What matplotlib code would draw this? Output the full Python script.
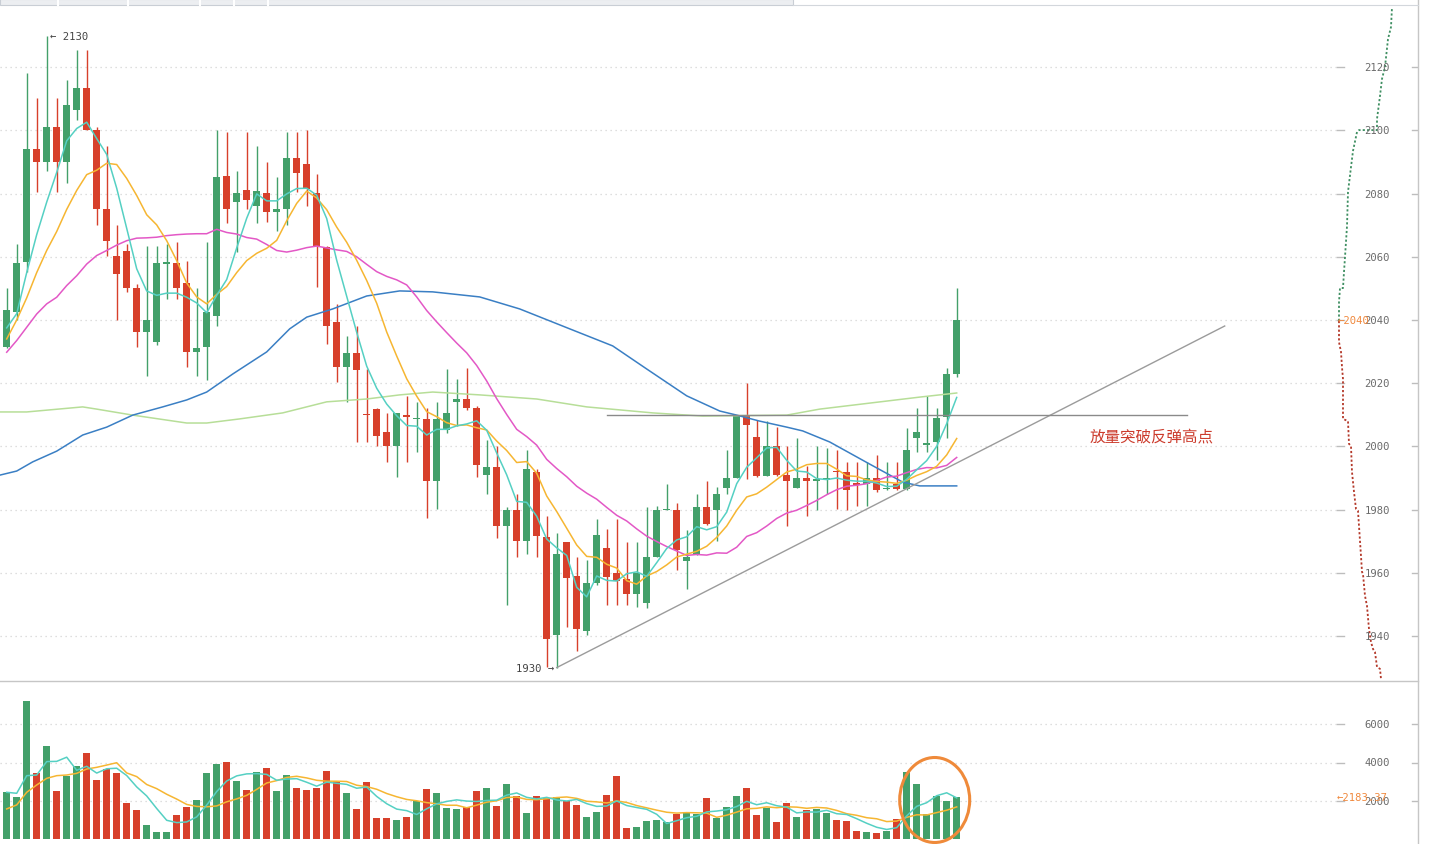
import numpy as np
import matplotlib
matplotlib.use('Agg')
import matplotlib.pyplot as plt
from matplotlib.patches import Ellipse, Rectangle
from matplotlib.lines import Line2D

# ---- candle data ----
opens = [2031.5, 2042.4, 2058.3, 2094.1, 2090.1, 2101.2, 2090.1, 2106.3, 2113.5, 2100.2,
         2075.1, 2060.4, 2061.7, 2050.2, 2036.1, 2033.1, 2057.8, 2058.0, 2051.6, 2030.0,
         2031.3, 2041.2, 2085.7, 2077.3, 2081.2, 2076.2, 2080.2, 2074.3, 2075.1, 2091.3,
         2089.4, 2080.2, 2063.0, 2039.3, 2025.2, 2029.5, 2010.1, 2011.8, 2004.4, 2000.2,
         2009.9, 2008.7, 2008.8, 1989.2, 2005.2, 2014.1, 2014.9, 2012.1, 1991.1, 1993.6,
         1974.9, 1980.0, 1970.2, 1992.0, 1971.3, 1940.2, 1969.9, 1958.9, 1941.5, 1956.7,
         1967.9, 1960.0, 1958.1, 1953.4, 1950.5, 1965.0, 1979.8, 1980.0, 1963.6, 1965.5,
         1980.8, 1980.0, 1986.8, 1990.0, 2009.9, 2003.1, 1990.7, 2000.2, 1991.0, 1986.8,
         1989.9, 1989.2, 1989.5, 1992.3, 1991.8, 1988.3, 1988.1, 1989.9, 1986.4, 1988.1,
         1986.5, 2002.6, 2000.5, 2001.3, 2009.2, 2022.8]
highs = [2050.0, 2064.0, 2118.2, 2110.3, 2130.0, 2110.3, 2116.0, 2125.3, 2125.3, 2101.0,
         2095.2, 2070.1, 2064.1, 2051.4, 2063.5, 2063.5, 2064.0, 2064.6, 2058.8, 2050.0,
         2064.6, 2100.2, 2099.4, 2087.1, 2099.4, 2095.2, 2089.9, 2085.2, 2099.4, 2099.4,
         2100.2, 2086.2, 2063.5, 2045.1, 2035.0, 2038.2, 2024.5, 2012.2, 2010.7, 2010.7,
         2016.0, 2013.9, 2012.3, 2013.9, 2024.6, 2021.3, 2024.9, 2012.8, 2002.0, 2000.2,
         1980.8, 1985.0, 1998.8, 1992.8, 1978.1, 1972.6, 1969.9, 1965.0, 1964.1, 1977.0,
         1974.0, 1977.0, 1969.7, 1969.7, 1980.8, 1981.0, 1988.1, 1982.0, 1973.4, 1985.0,
         1989.0, 1987.1, 1998.8, 2010.0, 2020.2, 2008.4, 2008.1, 2006.0, 2000.2, 2002.8,
         1993.9, 2000.2, 1999.5, 1998.8, 1995.2, 1995.2, 1995.2, 1997.3, 1995.0, 1995.0,
         2005.8, 2012.1, 2016.0, 2012.1, 2024.9, 2050.1]
lows = [2031.0, 2040.0, 2055.3, 2080.4, 2087.3, 2080.4, 2083.3, 2103.4, 2100.0, 2070.1,
        2060.2, 2040.1, 2049.0, 2031.3, 2022.4, 2032.0, 2046.6, 2046.6, 2025.2, 2022.4,
        2021.0, 2038.2, 2070.7, 2061.4, 2075.1, 2070.7, 2071.1, 2068.3, 2070.1, 2080.4,
        2076.2, 2050.3, 2032.4, 2020.3, 2014.0, 2001.3, 2001.3, 2000.2, 1995.2, 1990.2,
        1995.2, 1998.1, 1977.3, 1980.2, 2004.2, 2006.5, 2011.6, 1990.2, 1985.0, 1971.0,
        1949.9, 1965.0, 1966.0, 1965.0, 1930.2, 1930.0, 1942.8, 1935.2, 1940.2, 1956.0,
        1949.9, 1949.9, 1949.9, 1949.2, 1948.8, 1965.0, 1979.8, 1961.0, 1955.0, 1965.5,
        1975.0, 1970.2, 1985.0, 1990.0, 1989.7, 1990.2, 1990.7, 1990.7, 1974.9, 1986.8,
        1978.1, 1980.0, 1985.0, 1980.2, 1979.9, 1981.0, 1981.0, 1985.5, 1986.2, 1986.2,
        1986.2, 1998.1, 1998.1, 1995.7, 2002.8, 2022.0]
closes = [2043.2, 2058.0, 2094.1, 2090.1, 2101.2, 2090.1, 2108.1, 2113.5, 2100.2, 2075.1,
          2065.1, 2054.6, 2050.2, 2036.1, 2040.0, 2058.0, 2058.2, 2050.2, 2030.0, 2031.0,
          2042.4, 2085.4, 2075.1, 2080.2, 2078.0, 2080.7, 2074.3, 2075.1, 2091.3, 2086.4,
          2081.3, 2063.5, 2038.2, 2025.2, 2029.5, 2024.3, 2009.9, 2003.2, 2000.2, 2010.7,
          2009.2, 2008.9, 1989.2, 2008.8, 2010.7, 2014.9, 2012.1, 1994.2, 1993.6, 1974.9,
          1980.0, 1970.2, 1992.8, 1971.5, 1939.0, 1966.0, 1958.3, 1942.1, 1956.7, 1972.0,
          1958.8, 1957.4, 1953.4, 1960.0, 1965.0, 1980.0, 1980.0, 1967.1, 1965.0, 1980.8,
          1975.3, 1985.0, 1989.9, 2009.9, 2006.7, 1990.7, 2000.2, 1991.0, 1989.2, 1989.9,
          1989.2, 1989.7, 1989.9, 1991.8, 1986.2, 1987.8, 1989.9, 1986.2, 1986.6, 1986.5,
          1998.8, 2004.7, 2001.0, 2008.9, 2022.8, 2040.0]
volumes = [2487, 2228, 7202, 3454, 4870, 2539, 3316, 3799, 4490, 3109,
           3661, 3454, 1900, 1537, 760, 397, 397, 1295, 1710, 2072,
           3454, 3920, 4041, 3040, 2591, 3523, 3713, 2521, 3350, 2694,
           2591, 2694, 3575, 3040, 2418, 1589, 3005, 1140, 1140, 1019,
           1192, 2003, 2625, 2418, 1658, 1589, 1692, 2521, 2677, 1744,
           2884, 2262, 1382, 2262, 2159, 2211, 1986, 1796, 1174, 1433,
           2314, 3299, 604, 656, 967, 1019, 898, 1347, 1433, 1330,
           2159, 1123, 1692, 2262, 2677, 1278, 1641, 915, 1900, 1174,
           1537, 1589, 1382, 1019, 967, 449, 397, 345, 449, 1071,
           3506, 2884, 1330, 2262, 2003, 2183.37]

# ---- moving average lines as drawn ----
ma5 = [2037.5, 2042.0, 2055.0, 2067.0, 2077.3, 2086.7, 2096.7, 2100.6, 2102.6, 2097.4,
       2092.4, 2081.7, 2069.0, 2056.2, 2049.2, 2047.8, 2048.5, 2048.5, 2047.2, 2045.4,
       2042.3, 2047.8, 2052.8, 2062.8, 2072.2, 2079.9, 2077.7, 2077.7, 2079.9, 2081.6,
       2081.7, 2079.5, 2072.1, 2058.9, 2047.5, 2036.1, 2025.4, 2018.4, 2013.4, 2009.7,
       2006.6, 2006.4, 2003.6, 2005.4, 2005.4, 2006.5, 2007.1, 2008.1, 2005.1, 1997.9,
       1991.0, 1982.6, 1982.3, 1977.9, 1970.7, 1967.9, 1965.5, 1955.4, 1952.4, 1959.0,
       1957.6, 1957.4, 1959.7, 1960.3, 1958.9, 1963.2, 1967.7, 1970.4, 1971.4, 1974.6,
       1973.6, 1974.6, 1979.2, 1988.2, 1993.4, 1996.4, 1999.5, 1999.7, 1995.6, 1992.2,
       1991.9, 1989.8, 1989.5, 1990.0, 1989.3, 1989.0, 1989.0, 1988.4, 1987.3, 1987.4,
       1989.6, 1992.6, 1995.5, 2000.0, 2007.2, 2015.5]
ma10 = [2034.0, 2040.0, 2047.0, 2055.0, 2062.0, 2068.0, 2075.0, 2081.0, 2086.0, 2087.4,
        2089.6, 2089.2, 2084.8, 2079.4, 2073.3, 2070.1, 2065.1, 2058.8, 2051.7, 2047.3,
        2045.1, 2048.1, 2050.6, 2055.0, 2058.8, 2061.1, 2062.7, 2065.2, 2071.4, 2076.9,
        2080.8, 2078.6, 2074.9, 2069.4, 2064.6, 2058.9, 2052.5, 2045.3, 2036.2, 2028.6,
        2021.4, 2015.9, 2011.0, 2009.4, 2007.5, 2006.6, 2006.8, 2005.9, 2005.2, 2001.7,
        1998.7, 1994.9, 1995.2, 1991.5, 1984.3, 1979.4, 1974.1, 1968.8, 1965.2, 1964.9,
        1962.7, 1961.5, 1957.5, 1956.4, 1959.0, 1960.4, 1962.5, 1965.0, 1965.9, 1966.8,
        1968.4, 1971.2, 1974.8, 1979.8, 1984.0, 1985.0, 1987.1, 1989.5, 1991.9, 1992.8,
        1994.2, 1994.6, 1994.6, 1992.8, 1990.7, 1990.5, 1989.4, 1988.9, 1988.7, 1988.3,
        1989.3, 1990.8, 1992.0, 1993.7, 1997.3, 2002.5]
ma20 = [2029.8, 2033.5, 2037.7, 2041.9, 2045.1, 2047.2, 2050.9, 2054.0, 2057.7, 2060.4,
        2062.0, 2063.7, 2065.1, 2065.9, 2066.0, 2066.2, 2066.7, 2067.0, 2067.2, 2067.3,
        2067.3, 2068.7, 2067.7, 2067.2, 2066.1, 2065.6, 2063.9, 2062.0, 2061.5, 2062.1,
        2062.9, 2063.4, 2062.8, 2062.2, 2061.7, 2060.0, 2057.6, 2055.3, 2053.8, 2052.7,
        2051.1, 2047.3, 2043.0, 2039.4, 2036.0, 2032.7, 2029.6, 2025.6, 2020.7, 2015.1,
        2010.1, 2005.4, 2003.1, 2000.4, 1995.9, 1993.0, 1990.4, 1987.4, 1985.2, 1983.3,
        1980.7, 1978.2, 1976.4, 1973.9, 1971.6, 1969.9, 1968.3, 1966.9, 1965.5, 1965.8,
        1965.6, 1966.3, 1966.2, 1968.1, 1971.5, 1972.7, 1974.8, 1977.2, 1978.9, 1979.8,
        1981.3, 1982.9, 1984.7, 1986.3, 1987.4, 1987.7, 1988.2, 1989.2, 1990.3, 1990.6,
        1991.7, 1992.7, 1993.3, 1993.2, 1994.0, 1996.5]
ma60_x = [-0.7, 1.0, 2.6, 5.0, 7.6, 10.0, 12.6, 15.6, 18.0, 20.0, 22.6, 26.0, 28.3, 30.0,
          32.6, 36.0, 39.3, 42.6, 47.3, 51.3, 56.3, 60.6, 64.0, 68.0, 71.3, 73.0, 75.3,
          78.0, 79.6, 82.3, 86.3, 89.6, 91.3, 95.0]
ma60 = [1990.9, 1992.2, 1995.1, 1998.5, 2003.6, 2006.1, 2009.9, 2012.5, 2014.7, 2017.2,
        2022.9, 2029.9, 2037.2, 2040.9, 2043.5, 2047.6, 2049.2, 2048.9, 2047.3, 2043.5,
        2037.2, 2031.8, 2024.5, 2016.0, 2011.2, 2009.9, 2008.0, 2006.1, 2004.9, 2001.4,
        1994.4, 1988.7, 1987.5, 1987.5]
ma120_x = [-0.7, 2.0, 7.6, 9.0, 12.6, 18.0, 20.0, 23.3, 27.6, 32.0, 36.0, 39.3, 42.6,
           47.3, 53.0, 58.0, 64.6, 69.6, 78.0, 81.3, 86.3, 91.3, 95.0]
ma120 = [2010.9, 2010.9, 2012.5, 2011.8, 2009.9, 2007.4, 2007.4, 2008.7, 2010.6, 2014.1,
         2015.0, 2016.3, 2017.2, 2016.3, 2015.0, 2012.5, 2010.6, 2009.6, 2009.9, 2011.8,
         2013.7, 2015.6, 2016.9]
vol_ma5 = [2452, 2400, 3316, 3350, 4048, 4059, 4276, 3596, 3803, 3451,
           3675, 3703, 3323, 2732, 2262, 1610, 998, 877, 912, 1174,
           1786, 2490, 3039, 3305, 3409, 3423, 3382, 3078, 3140, 3160,
           2974, 2770, 2981, 2919, 2864, 2663, 2725, 2238, 1858, 1579,
           1499, 1299, 1596, 1851, 1979, 2059, 1996, 1976, 2027, 2045,
           2304, 2418, 2190, 2107, 2190, 2055, 2000, 2083, 1865, 1720,
           1741, 2003, 1765, 1661, 1568, 1309, 829, 977, 1133, 1205,
           1433, 1478, 1547, 1713, 1983, 1806, 1910, 1755, 1682, 1382,
           1433, 1423, 1516, 1340, 1299, 1081, 843, 635, 521, 614,
           1226, 1723, 1912, 2275, 2426, 2162]
vol_ma10 = [1589, 1796, 2452, 2832, 3178, 3316, 3350, 3437, 3661, 3749,
            3867, 3989, 3459, 3268, 2857, 2642, 2350, 2100, 1822, 1718,
            1698, 1744, 1958, 2109, 2292, 2604, 2936, 3059, 3223, 3285,
            3198, 3076, 3029, 3029, 3012, 2819, 2748, 2610, 2389, 2221,
            2081, 2012, 1917, 1855, 1779, 1779, 1648, 1786, 1939, 2012,
            2181, 2207, 2083, 2067, 2117, 2179, 2209, 2136, 1986, 1955,
            1898, 2002, 1924, 1763, 1644, 1525, 1416, 1371, 1397, 1387,
            1371, 1154, 1262, 1423, 1594, 1620, 1694, 1651, 1698, 1682,
            1620, 1667, 1636, 1511, 1340, 1257, 1133, 1076, 931, 957,
            1153, 1283, 1274, 1398, 1520, 1694]

# price ladder on the right edge (price level, depth)
ladder_up_price = [2039.7, 2045.7, 2050.1, 2050.1, 2055.2, 2059.9, 2069.7, 2080.5, 2088.4,
                   2093.5, 2099.5, 2100.1, 2100.1, 2103.6, 2110.9, 2116.3, 2120.1, 2128.9,
                   2132.7, 2139.0]
ladder_up_depth = [1, 1, 2, 5, 6, 7, 9, 10, 13, 15, 19, 21, 39, 39, 42, 44, 47, 50, 53, 54]
ladder_dn_price = [2039.7, 2033.0, 2029.9, 2025.1, 2021.3, 2008.7, 2008.0, 2000.8, 2000.1,
                   1991.9, 1985.6, 1980.2, 1979.6, 1974.8, 1965.3, 1960.3, 1959.6, 1952.7,
                   1949.5, 1942.2, 1938.1, 1935.9, 1934.9, 1930.2, 1929.6, 1926.4]
ladder_dn_depth = [1, 1, 3, 4, 5, 5, 10, 11, 13, 14, 16, 18, 20, 21, 23, 24, 25, 27, 29,
                   31, 33, 35, 37, 39, 42, 43]

price_ticks = [1940, 1960, 1980, 2000, 2020, 2040, 2060, 2080, 2100, 2120]
vol_ticks = [2000, 4000, 6000]

# annotation lines
support_x = [55, 121.8]
support_y = [1930, 2038.1]
resist_x = [60, 118]
resist_y = [2010, 2010]
note = '放量突破反弹高点'

GREEN = '#43a06a'
RED = '#d7402b'
MONO = 'DejaVu Sans Mono'

W, H = 1430, 845
R = 1418  # right border in pixels
fig = plt.figure(figsize=(W / 100, H / 100), dpi=100)
fig.patch.set_facecolor('white')
ax = fig.add_axes([0, 163 / H, R / W, 682 / H])
axv = fig.add_axes([0, 0, R / W, 163 / H])
for a in (ax, axv):
    a.set_xlim(-0.67, 141.13)
    a.set_axis_off()
ax.set_ylim(1925.76, 2141.58)
axv.set_ylim(-234, 8234)

o = np.array(opens)
c = np.array(closes)
idx = np.arange(len(c))
cols = np.where(c >= o, GREEN, RED)

# grid, ticks and labels
def draw_scale(a, ticks, fmt):
    tr = a.get_yaxis_transform()
    for t in ticks:
        a.plot([0, 1337 / R], [t, t], transform=tr, color='#d4d4d4', lw=0.9,
               ls=(0, (1, 3)), zorder=0)
        a.plot([1337 / R, 1344 / R], [t, t], transform=tr, color='#bdbdbd', lw=1, zorder=0)
        a.plot([1412 / R, 1.0], [t, t], transform=tr, color='#bdbdbd', lw=1, zorder=0)
        a.text(1377 / R, t, fmt(t), transform=tr, ha='center', va='center',
               fontsize=7.6, family=MONO, color='#6a6a6a', zorder=6)

draw_scale(ax, price_ticks, str)
draw_scale(axv, vol_ticks, str)

# candles
ax.vlines(idx, lows, highs, colors=cols, lw=1.0, zorder=2)
ax.bar(idx, np.maximum(np.abs(c - o), 0.35), bottom=np.minimum(o, c), width=0.68,
       color=cols, linewidth=0, zorder=3)

# moving averages
ax.plot(ma120_x, ma120, color='#b7de98', lw=1.1, zorder=4)
ax.plot(ma60_x, ma60, color='#3a7fc4', lw=1.1, zorder=4)
ax.plot(idx, ma20, color='#e358c6', lw=1.1, zorder=4)
ax.plot(idx, ma10, color='#f6b632', lw=1.1, zorder=4)
ax.plot(idx, ma5, color='#55d0c3', lw=1.1, zorder=4)

# annotations
ax.plot(support_x, support_y, color='#9b9b9b', lw=1.0, zorder=5)
ax.plot(resist_x, resist_y, color='#8a8a8a', lw=1.0, zorder=5)
ax.text(108.3, 2003, note, family=['Noto Sans CJK SC', 'DejaVu Sans'], fontsize=11.2,
        color='#cc3b2c', ha='left', va='center')
hi = int(np.argmax(highs))
lo = int(np.argmin(lows))
ax.text(hi + 0.35, highs[hi], '← %d' % round(highs[hi]), fontsize=7.6, family=MONO,
        color='#444444', ha='left', va='center')
ax.text(lo - 0.2, lows[lo], '%d →' % round(lows[lo]), fontsize=7.6, family=MONO,
        color='#444444', ha='right', va='center')

# price ladder at right edge
lad = ax.inset_axes([1338 / R, 0, 80 / R, 1])
lad.set_xlim(0, 80)
lad.set_ylim(ax.get_ylim())
lad.set_axis_off()
lad.plot(ladder_up_depth, ladder_up_price, color='#3f8f62', lw=1.3, ls=(0, (1.2, 1.2)))
lad.plot(ladder_dn_depth, ladder_dn_price, color='#b4392a', lw=1.3, ls=(0, (1.2, 1.2)))

ax.text(1338 / R, closes[-1], '←%d' % closes[-1], transform=ax.get_yaxis_transform(),
        fontsize=7.6, family=MONO, color='#f0883c', ha='left', va='center', zorder=7)

# volume
axv.bar(idx, volumes, width=0.68, color=cols, linewidth=0, zorder=2)
axv.plot(idx, vol_ma10, color='#f6b632', lw=1.1, zorder=4)
axv.plot(idx, vol_ma5, color='#55d0c3', lw=1.1, zorder=4)
axv.text(1337 / R, volumes[-1], '←%.2f' % volumes[-1], transform=axv.get_yaxis_transform(),
         fontsize=7.6, family=MONO, color='#f0883c', ha='left', va='center', zorder=7)
axv.add_patch(Ellipse((92.8, 2052), width=7.0, height=4416, fill=False,
                      edgecolor='#ef8a3a', lw=2.2, zorder=6, clip_on=False))

# frame pieces
fig.add_artist(Line2D([R / W, R / W], [0, 1], transform=fig.transFigure,
                      color='#c6c6c6', lw=1))
fig.add_artist(Line2D([0, R / W], [163 / H, 163 / H], transform=fig.transFigure,
                      color='#c6c6c6', lw=1))
fig.add_artist(Rectangle((0, 1 - 6 / H), 793 / W, 6 / H, transform=fig.transFigure,
                         facecolor='#eceef1', edgecolor='#c9ced5', lw=0.8))
fig.add_artist(Line2D([793 / W, R / W], [1 - 6 / H, 1 - 6 / H], transform=fig.transFigure,
                      color='#d3d7dc', lw=0.8))
for px in [58, 128, 200, 234, 268]:
    fig.add_artist(Line2D([px / W, px / W], [1 - 6 / H, 1], transform=fig.transFigure,
                          color='white', lw=1.5))

fig.savefig('out.png', dpi=100, facecolor='white')
